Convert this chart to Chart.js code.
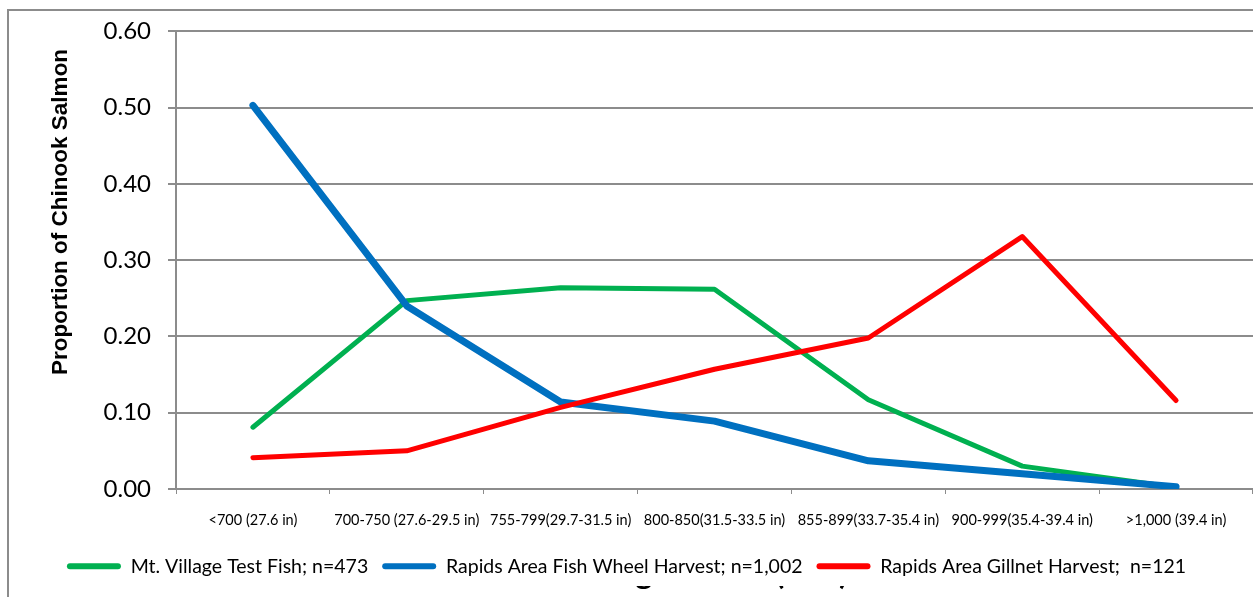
<!DOCTYPE html>
<html>
<head>
<meta charset="utf-8">
<script src="https://cdn.jsdelivr.net/npm/chart.js@4.4.1/dist/chart.umd.min.js"></script>
<style>
  html, body { margin: 0; padding: 0; background: #ffffff; }
  #wrap { width: 1253px; height: 597px; position: relative; }
</style>
</head>
<body>
<div id="wrap"><canvas id="c" width="1253" height="597"></canvas></div>
<script>
// Length categories (mm, with inches)
const categories = [
  '<700 (27.6 in)',
  '700-750 (27.6-29.5 in)',
  '755-799(29.7-31.5 in)',
  '800-850(31.5-33.5 in)',
  '855-899(33.7-35.4 in)',
  '900-999(35.4-39.4 in)',
  '>1,000 (39.4 in)'
];

// Proportion of Chinook salmon in each length category
const mtVillageTestFish   = [0.081, 0.247, 0.264, 0.262, 0.117, 0.030, 0.002];
const rapidsFishWheel     = [0.503, 0.240, 0.114, 0.089, 0.037, 0.020, 0.003];
const rapidsGillnet       = [0.041, 0.050, 0.107, 0.157, 0.198, 0.331, 0.116];

const seriesNames = [
  'Mt. Village Test Fish; n=473',
  'Rapids Area Fish Wheel Harvest; n=1,002',
  'Rapids Area Gillnet Harvest;  n=121'
];

const yTicks = [0, 0.1, 0.2, 0.3, 0.4, 0.5, 0.6];

const yTitle = 'Proportion of Chinook Salmon';
const xTitle = 'Length Class (mm)';

const FONT = 'Lato, "Liberation Sans", sans-serif';
const GRID = '#8c8c8c';
const PLOT_LEFT = 176;
const PLOT_BOTTOM = 489;
const PAD_BOTTOM = 11;

// Frame, axis titles and the legend backdrop (drawn before the legend)
const decorations = {
  id: 'decorations',
  beforeDraw(chart) {
    const ctx = chart.ctx;
    ctx.save();
    ctx.fillStyle = '#ffffff';
    ctx.fillRect(0, 0, chart.width, chart.height);
    // outer frame
    ctx.strokeStyle = '#8c8c8c';
    ctx.lineWidth = 2;
    ctx.strokeRect(8, 10, chart.width + 20, chart.height + 20);
    // x-axis title (sits behind the legend)
    ctx.fillStyle = '#000000';
    ctx.font = 'bold 33px ' + FONT;
    ctx.textAlign = 'right';
    ctx.textBaseline = 'alphabetic';
    ctx.fillText(xTitle, 848, 584);
    // legend backdrop
    const lg = chart.legend;
    ctx.fillStyle = '#ffffff';
    ctx.fillRect(9, lg.top, chart.width, lg.bottom - lg.top);
    // y-axis title
    ctx.translate(61, 212);
    ctx.rotate(-Math.PI / 2);
    ctx.textAlign = 'center';
    ctx.textBaseline = 'middle';
    ctx.fillStyle = '#000000';
    ctx.font = 'bold 22.5px "Liberation Sans", Arial, sans-serif';
    ctx.fillText(yTitle, 0, 0);
    ctx.restore();
  }
};

const colors = ['#00b050', '#0070c0', '#ff0000'];
const widths = [5, 7, 5];
const seriesData = [mtVillageTestFish, rapidsFishWheel, rapidsGillnet];
const drawOrder = [2, 1, 0];

new Chart(document.getElementById('c'), {
  type: 'line',
  data: {
    labels: categories,
    datasets: seriesData.map((d, i) => ({
      label: seriesNames[i],
      data: d,
      borderColor: colors[i],
      backgroundColor: colors[i],
      borderWidth: widths[i],
      pointRadius: 0,
      pointHoverRadius: 0,
      tension: 0,
      borderCapStyle: 'round',
      borderJoinStyle: 'round',
      fill: false,
      order: drawOrder[i]
    }))
  },
  options: {
    responsive: false,
    animation: false,
    devicePixelRatio: 1,
    layout: { padding: { left: 0, right: 0, top: 30, bottom: PAD_BOTTOM } },
    plugins: {
      tooltip: { enabled: false },
      legend: {
        position: 'bottom',
        align: 'center',
        labels: {
          font: { family: FONT, size: 19.5 },
          color: '#000000',
          boxWidth: 54,
          boxHeight: 6,
          padding: 14,
          generateLabels(chart) {
            return chart.data.datasets.map((ds, i) => ({
              text: ds.label,
              fillStyle: ds.borderColor,
              strokeStyle: ds.borderColor,
              lineWidth: 0,
              borderRadius: 3,
              hidden: false,
              datasetIndex: i,
              fontColor: '#000000'
            }));
          }
        }
      }
    },
    scales: {
      x: {
        type: 'category',
        offset: true,
        grid: {
          offset: true,
          drawOnChartArea: false,
          drawTicks: true,
          tickLength: 5,
          color: GRID,
          lineWidth: 1
        },
        border: { color: GRID, width: 2 },
        ticks: {
          font: { family: FONT, size: 14.5 },
          color: '#000000',
          padding: 18,
          maxRotation: 0,
          autoSkip: false
        },
        afterFit(s) {
          s.height = s.chart.height - PAD_BOTTOM - s.chart.legend.height - PLOT_BOTTOM;
        }
      },
      y: {
        min: 0,
        max: 0.6,
        afterBuildTicks(s) { s.ticks = yTicks.map(v => ({ value: v })); },
        grid: {
          color: GRID,
          lineWidth: 2,
          drawTicks: true,
          tickLength: 8
        },
        border: { color: GRID, width: 2 },
        ticks: {
          font: { family: FONT, size: 24 },
          color: '#000000',
          padding: 17,
          callback: v => Number(v).toFixed(2)
        },
        afterFit(s) { s.width = PLOT_LEFT; }
      }
    }
  },
  plugins: [decorations]
});
</script>
</body>
</html>
